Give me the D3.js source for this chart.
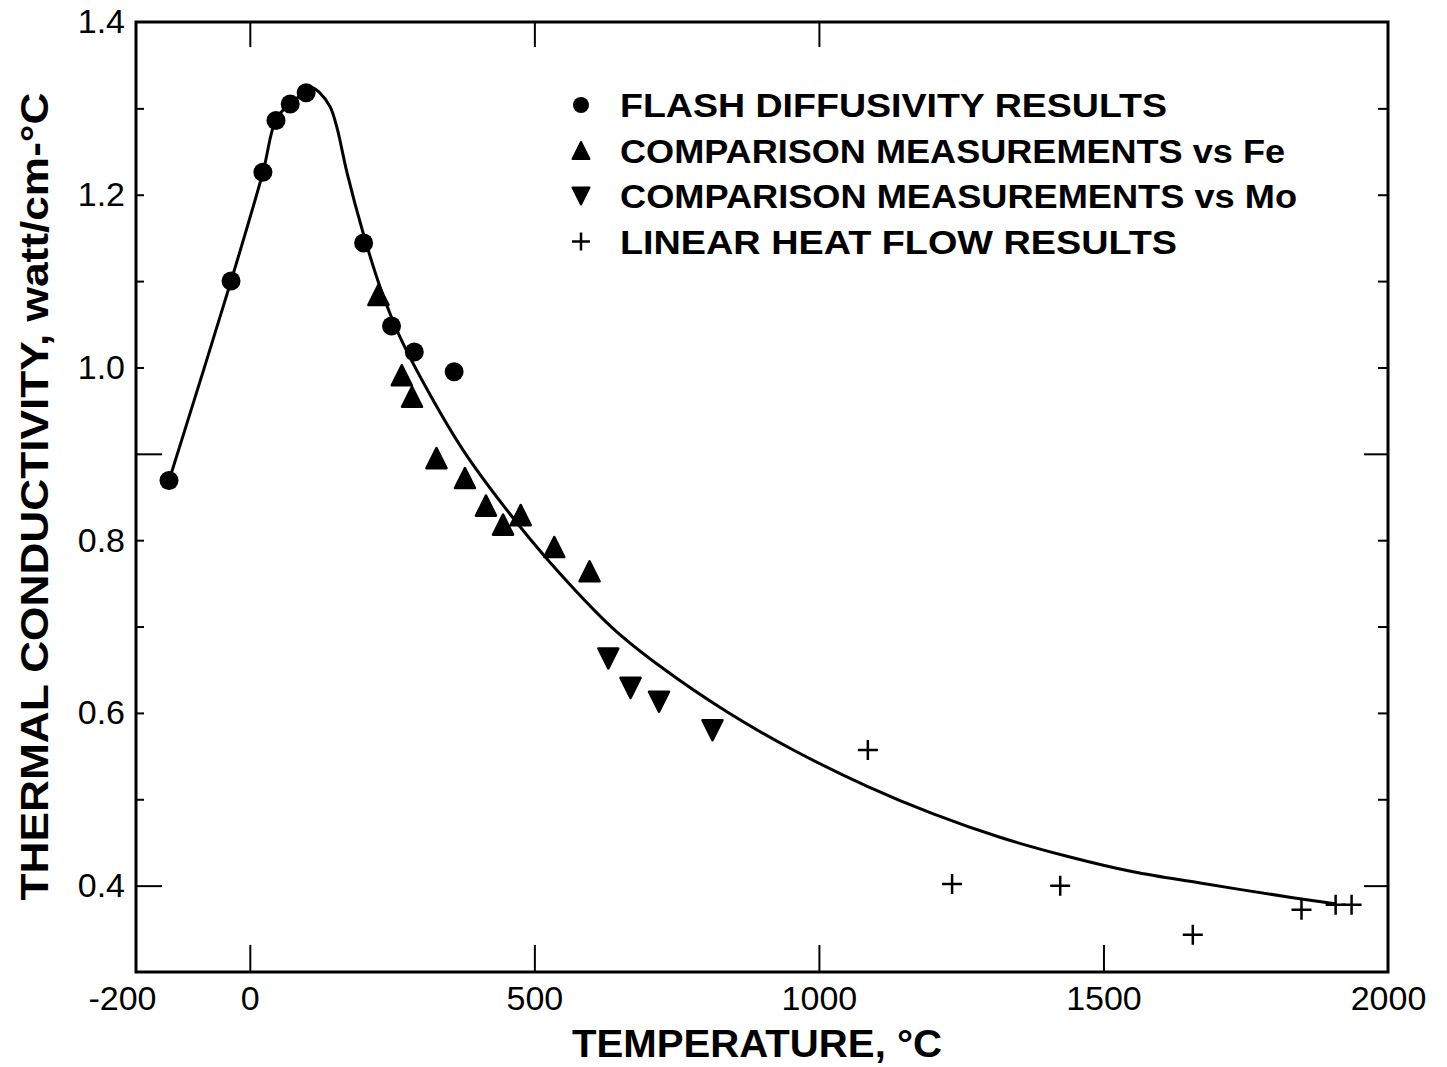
<!DOCTYPE html>
<html>
<head>
<meta charset="utf-8">
<script src="https://cdn.jsdelivr.net/npm/d3@7"></script>
<style>
  html, body { margin: 0; padding: 0; background: #fff; }
  svg { display: block; }
</style>
</head>
<body>
<svg id="chart" width="1447" height="1067"></svg>
<script>
// ---- data ----
const xTickValues = [-200, 0, 500, 1000, 1500, 2000];
const xTickLabels = ["-200", "0", "500", "1000", "1500", "2000"];
const yTickValues = [0.4, 0.6, 0.8, 1.0, 1.2, 1.4];
const yTickLabels = ["0.4", "0.6", "0.8", "1.0", "1.2", "1.4"];
const yMinorTicks = [0.4, 0.5, 0.6, 0.7, 0.8, 0.9, 1.0, 1.1, 1.2, 1.3];
const xInnerTicks = [0, 500, 1000, 1500];

// Flash diffusivity results (circles)
const flashT = [-142, -33, 23, 46, 71, 99, 200, 249, 289, 359];
const flashK = [0.869, 1.100, 1.226, 1.286, 1.305, 1.318, 1.144, 1.048, 1.018, 0.995];
// Comparison measurements vs Fe (triangles)
const feT = [226, 267, 285, 328, 378, 415, 445, 476, 535, 597];
const feK = [1.084, 0.991, 0.966, 0.895, 0.872, 0.840, 0.818, 0.829, 0.792, 0.764];
// Comparison measurements vs Mo (inverted triangles)
const moT = [630, 669, 719, 813];
const moK = [0.663, 0.629, 0.613, 0.580];
// Linear heat flow results (crosses)
const linT = [1086, 1234, 1424, 1657, 1848, 1908, 1936];
const linK = [0.557, 0.402, 0.400, 0.343, 0.372, 0.378, 0.378];
// Smooth fitted curve
const curveT = [-142, -33, 23, 46, 71, 99, 109, 123, 141, 153, 171, 199, 229, 264, 317, 375, 448, 528, 638, 721, 839, 955, 1085, 1201, 1318, 1436, 1552, 1670, 1833, 1907];
const curveK = [0.869, 1.100, 1.226, 1.287, 1.306, 1.319, 1.324, 1.318, 1.302, 1.278, 1.225, 1.156, 1.093, 1.035, 0.968, 0.904, 0.838, 0.774, 0.698, 0.654, 0.601, 0.557, 0.515, 0.483, 0.456, 0.434, 0.416, 0.403, 0.386, 0.379];

const legendLabels = [
  "FLASH DIFFUSIVITY  RESULTS",
  "COMPARISON  MEASUREMENTS vs Fe",
  "COMPARISON  MEASUREMENTS vs Mo",
  "LINEAR HEAT FLOW RESULTS"
];
const legendKinds = ["circle", "up", "down", "plus"];

const xTitle = "TEMPERATURE, °C";
const yTitle = "THERMAL  CONDUCTIVITY, watt/cm-°C";

// ---- layout ----
const svg = d3.select("#chart");
const L = 136, R = 1388, T = 22, B = 972;
const x = d3.scaleLinear().domain([-200, 2000]).range([L, R]);
const y = d3.scaleLinear().domain([0.3, 1.4]).range([B, T]);

const font = "'Liberation Sans', Arial, sans-serif";

// frame
svg.append("rect").attr("x", L).attr("y", T).attr("width", R - L).attr("height", B - T)
  .attr("fill", "none").attr("stroke", "#000").attr("stroke-width", 3);

// bottom axis (labels)
const bottomAxis = d3.axisBottom(x).tickValues(xTickValues)
  .tickFormat((d, i) => xTickLabels[i]).tickSize(0).tickPadding(12);
const gB = svg.append("g").attr("transform", `translate(0,${B})`).call(bottomAxis);
gB.select(".domain").remove();
gB.selectAll("text").attr("font-family", font).attr("font-size", 34).attr("fill", "#000")
  .attr("dy", "0.75em")
  .attr("dx", d => d === -200 ? -14 : 0);

// inward x ticks
const bottomTicks = d3.axisBottom(x).tickValues(xInnerTicks).tickFormat("").tickSize(-27);
const gBT = svg.append("g").attr("transform", `translate(0,${B})`).call(bottomTicks);
gBT.select(".domain").remove();
gBT.selectAll("line").attr("stroke", "#000").attr("stroke-width", 2);

const topTicks = d3.axisTop(x).tickValues(xInnerTicks.slice(0, 3)).tickFormat("").tickSize(-25);
const gT = svg.append("g").attr("transform", `translate(0,${T})`).call(topTicks);
gT.select(".domain").remove();
gT.selectAll("line").attr("stroke", "#000").attr("stroke-width", 2);

// left axis labels
const leftAxis = d3.axisLeft(y).tickValues(yTickValues)
  .tickFormat((d, i) => yTickLabels[i]).tickSize(0).tickPadding(11);
const gL = svg.append("g").attr("transform", `translate(${L},0)`).call(leftAxis);
gL.select(".domain").remove();
gL.selectAll("text").attr("font-family", font).attr("font-size", 34).attr("fill", "#000");

// left & right inward ticks
const leftTicks = d3.axisLeft(y).tickValues(yMinorTicks).tickFormat("").tickSize(-8);
const gLT = svg.append("g").attr("transform", `translate(${L},0)`).call(leftTicks);
gLT.select(".domain").remove();
gLT.selectAll("line").attr("stroke", "#000").attr("stroke-width", 2)
  .attr("x2", d => (Math.abs(d - 0.4) < 1e-6 || Math.abs(d - 0.9) < 1e-6) ? 26 : 8);

const rightTicks = d3.axisRight(y).tickValues(yMinorTicks).tickFormat("").tickSize(-8);
const gRT = svg.append("g").attr("transform", `translate(${R},0)`).call(rightTicks);
gRT.select(".domain").remove();
gRT.selectAll("line").attr("stroke", "#000").attr("stroke-width", 2)
  .attr("x2", d => (Math.abs(d - 0.4) < 1e-6 || Math.abs(d - 0.9) < 1e-6) ? -24 : -10);

// axis titles
svg.append("text").attr("x", (572 + 942) / 2).attr("y", 1057)
  .attr("text-anchor", "middle").attr("font-family", font).attr("font-weight", "bold")
  .attr("font-size", 38).attr("textLength", 370).attr("lengthAdjust", "spacingAndGlyphs")
  .text(xTitle);

svg.append("text").attr("transform", `translate(48,${(900 + 93) / 2}) rotate(-90)`)
  .attr("text-anchor", "middle").attr("font-family", font).attr("font-weight", "bold")
  .attr("font-size", 38).attr("textLength", 808).attr("lengthAdjust", "spacingAndGlyphs")
  .text(yTitle);

// curve
const curveData = curveT.map((t, i) => [t, curveK[i]]);
const line = d3.line().x(d => x(d[0])).y(d => y(d[1])).curve(d3.curveCatmullRom.alpha(0.5));
svg.append("path").datum(curveData).attr("d", line)
  .attr("fill", "none").attr("stroke", "#000").attr("stroke-width", 3)
  .attr("stroke-linejoin", "round").attr("stroke-linecap", "round");

// marker shapes
function upTri(s) { const h = s; return `M0,${-h/2}L${s/2},${h/2}L${-s/2},${h/2}Z`; }
function downTri(s) { const h = s; return `M0,${h/2}L${s/2},${-h/2}L${-s/2},${-h/2}Z`; }

// circles
svg.append("g").selectAll("circle").data(flashT.map((t, i) => [t, flashK[i]])).join("circle")
  .attr("cx", d => x(d[0])).attr("cy", d => y(d[1])).attr("r", 9.5).attr("fill", "#000");

// up triangles
svg.append("g").selectAll("path").data(feT.map((t, i) => [t, feK[i]])).join("path")
  .attr("transform", d => `translate(${x(d[0])},${y(d[1])})`).attr("d", upTri(20))
  .attr("fill", "#000").attr("stroke", "#000").attr("stroke-width", 2.5).attr("stroke-linejoin", "round");

// down triangles
svg.append("g").selectAll("path").data(moT.map((t, i) => [t, moK[i]])).join("path")
  .attr("transform", d => `translate(${x(d[0])},${y(d[1])})`).attr("d", downTri(20))
  .attr("fill", "#000").attr("stroke", "#000").attr("stroke-width", 2.5).attr("stroke-linejoin", "round");

// crosses
svg.append("g").selectAll("path").data(linT.map((t, i) => [t, linK[i]])).join("path")
  .attr("transform", d => `translate(${x(d[0])},${y(d[1])})`).attr("d", "M-10,0H10M0,-10V10")
  .attr("fill", "none").attr("stroke", "#000").attr("stroke-width", 2.5);

// legend
const legendX = 581, legendTextX = 620, legendY0 = 105, legendDY = 45.5;
const legendWidths = [547, 665, 677, 557];
const lg = svg.append("g");
legendLabels.forEach((lab, i) => {
  const cy = legendY0 + i * legendDY;
  const k = legendKinds[i];
  if (k === "circle") {
    lg.append("circle").attr("cx", legendX).attr("cy", cy).attr("r", 8).attr("fill", "#000");
  } else if (k === "up") {
    lg.append("path").attr("transform", `translate(${legendX},${cy})`).attr("d", upTri(17))
      .attr("fill", "#000").attr("stroke", "#000").attr("stroke-width", 2).attr("stroke-linejoin", "round");
  } else if (k === "down") {
    lg.append("path").attr("transform", `translate(${legendX},${cy})`).attr("d", downTri(17))
      .attr("fill", "#000").attr("stroke", "#000").attr("stroke-width", 2).attr("stroke-linejoin", "round");
  } else {
    lg.append("path").attr("transform", `translate(${legendX},${cy})`).attr("d", "M-9,0H9M0,-9V9")
      .attr("fill", "none").attr("stroke", "#000").attr("stroke-width", 2.5);
  }
  lg.append("text").attr("x", legendTextX).attr("y", cy + 12)
    .attr("font-family", font).attr("font-weight", "bold").attr("font-size", 33)
    .attr("textLength", legendWidths[i]).attr("lengthAdjust", "spacingAndGlyphs")
    .attr("fill", "#000").text(lab);
});
</script>
</body>
</html>
